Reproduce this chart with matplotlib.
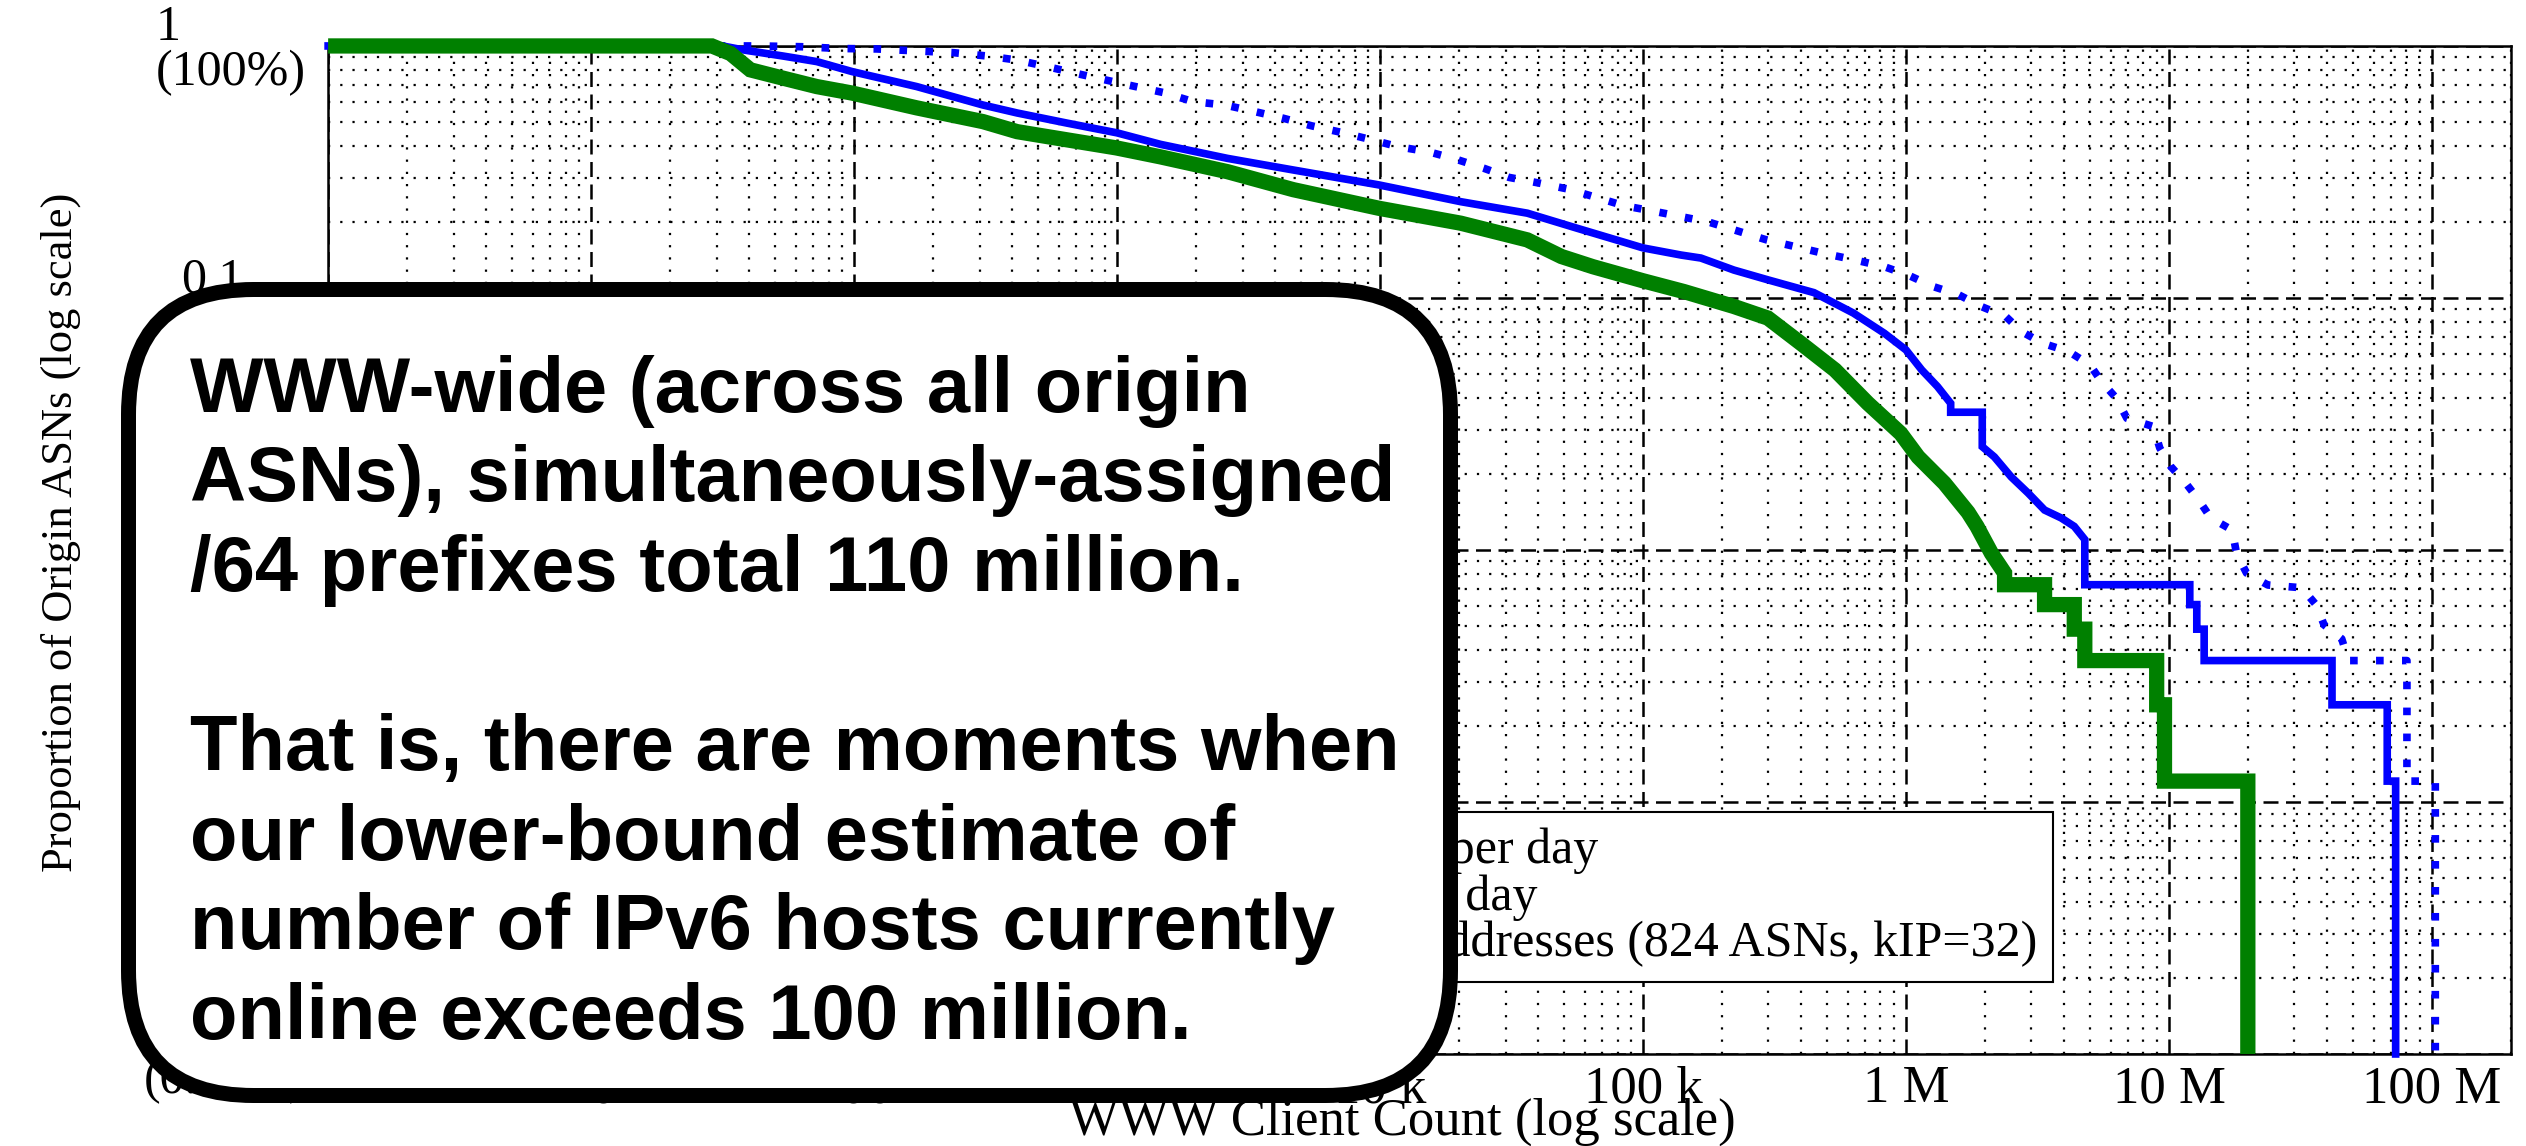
import numpy as np
import matplotlib
matplotlib.use("Agg")
import matplotlib.pyplot as plt
from matplotlib.patches import FancyBboxPatch
from matplotlib.transforms import IdentityTransform
from matplotlib.ticker import FixedLocator, LogLocator, NullFormatter

# CCDF curves (x = WWW client count, y = proportion of ASNs)
# blue dotted
addr_x = [1, 43.6, 63.1, 88.5, 122, 168, 240, 321, 417, 542,
          692, 904, 1175, 1503, 1950, 2570, 3365, 4305, 5495, 7194,
          9057, 11750, 15350, 19500, 24830, 30900, 40740, 52240, 66070, 85110,
          109600, 177800, 295100, 489800, 631000, 827900, 1.023e6, 1.268e6, 1.585e6, 1.932e6,
          2.399e6, 2.754e6, 3.311e6, 4.169e6, 5.012e6, 5.534e6, 6.31e6, 6.918e6, 8.71e6, 9.226e6,
          1.014e7, 1.159e7, 1.297e7, 1.442e7, 1.738e7, 1.807e7, 1.972e7, 2.377e7, 3.199e7, 3.631e7,
          3.89e7, 4.539e7, 4.819e7, 8.035e7, 8.035e7, 1.03e8, 1.03e8]
addr_y = [1, 1, .993, .977, .973, .957, .94, .912, .879, .828,
          .78, .733, .69, .653, .601, .583, .548, .516, .482, .453,
          .427, .398, .38, .355, .327, .301, .285, .27, .251, .232,
          .221, .20, .17, .150, .142, .133, .123, .111, .103, .0925,
          .0843, .0735, .0661, .0612, .0542, .0466, .04, .0333, .0309, .0254,
          .0215, .0184, .0158, .0134, .012, .0097, .0081, .00726, .00708, .00605,
          .00504, .00444, .00364, .00364, .00121, .00121, 1e-4]

# blue solid
pfx_x = [1, 31.6, 38, 53.7, 72.1, 98.4, 173, 309, 417, 646,
         1000, 1462, 2630, 4677, 9886, 20280, 36310, 56230, 100000, 139600,
         166000, 221800, 298500, 446700, 631000, 827900, 1e6, 1.148e6, 1.318e6, 1.479e6,
         1.479e6, 1.95e6, 1.95e6, 2.168e6, 2.512e6, 2.917e6, 3.365e6, 3.89e6, 4.365e6, 4.786e6,
         4.786e6, 1.2e7, 1.2e7, 1.276e7, 1.276e7, 1.361e7, 1.361e7, 4.169e7, 4.169e7, 6.761e7,
         6.761e7, 7.278e7, 7.278e7]
pfx_y = [1, 1, .964, .912, .867, .791, .69, .583, .542, .494,
         .452, .407, .358, .322, .281, .241, .217, .189, .158, .148,
         .144, .129, .118, .105, .0871, .0724, .0622, .0518, .0445, .0382,
         .0352, .0352, .0257, .0234, .0195, .0168, .0144, .0134, .0124, .011,
         .00728, .00728, .00607, .00607, .00485, .00485, .00364, .00364, .00243, .00243,
         .00121, .00121, 1e-4]

# green thick
sim_x = [1, 28.8, 33.9, 40.3, 53.7, 72.1, 98.4, 173, 309, 417,
         646, 993, 1462, 2630, 4677, 9886, 20280, 36310, 48980, 64570,
         100000, 143200, 221800, 298500, 398100, 537000, 716100, 955000, 1.112e6, 1.4e6,
         1.722e6, 1.862e6, 2.113e6, 2.371e6, 2.371e6, 3.365e6, 3.365e6, 4.365e6, 4.365e6, 4.786e6,
         4.786e6, 8.98e6, 8.98e6, 9.616e6, 9.616e6, 1.995e7, 1.995e7]
sim_y = [1, 1, .933, .804, .745, .69, .65, .568, .501, .457,
         .424, .394, .363, .317, .269, .227, .198, .17, .146, .133,
         .117, .106, .0925, .0832, .0661, .0518, .0382, .029, .0234, .0184,
         .0141, .0124, .0097, .0081, .00728, .00728, .00607, .00607, .00485, .00485,
         .00364, .00364, .00243, .00243, .00121, .00121, 1e-4]

legend_labels = ["IPv6 addresses per day",
                 "/64 prefixes per day",
                 "Simultaneous addresses (824 ASNs, kIP=32)"]

x_ticks = [1, 10, 100, 1e3, 1e4, 1e5, 1e6, 1e7, 1e8]
x_tick_labels = ["1", "10", "100", "1 k", "10 k", "100 k", "1 M", "10 M", "100 M"]
y_ticks = [1e-4, 1e-3, 1e-2, 1e-1, 1]
y_tick_labels = ["0.0001\n(0.01%)", "0.001\n(0.1%)", "0.01\n(1%)", "0.1\n(10%)", "1\n(100%)"]

callout_lines = ["WWW-wide (across all origin",
                 "ASNs), simultaneously-assigned",
                 "/64 prefixes total 110 million.",
                 "",
                 "That is, there are moments when",
                 "our lower-bound estimate of",
                 "number of IPv6 hosts currently",
                 "online exceeds 100 million."]

plt.rcParams['font.family'] = ['Liberation Serif', 'DejaVu Serif']

fig = plt.figure(figsize=(25.26, 11.46), dpi=100)
ax = fig.add_axes([0.1299, 0.0803, 0.8642, 0.8796])
ax.set_xscale('log')
ax.set_yscale('log')

blue = '#0000ff'
green = '#008000'
l1, = ax.plot(addr_x, addr_y, color=blue, lw=5.5, linestyle=(0, (1, 2.4)),
              dash_capstyle='butt', clip_on=False, zorder=3)
l2, = ax.plot(pfx_x, pfx_y, color=blue, lw=5.5, solid_joinstyle='miter',
              clip_on=False, zorder=3)
l3, = ax.plot(sim_x, sim_y, color=green, lw=11, solid_joinstyle='miter',
              solid_capstyle='butt', clip_on=False, zorder=4)

ax.set_xlim(1, 2e8)
ax.set_ylim(1e-4, 1)

# ticks and grid
ax.xaxis.set_major_locator(FixedLocator(x_ticks))
ax.yaxis.set_major_locator(FixedLocator(y_ticks))
ax.set_xticklabels(x_tick_labels)
ax.set_yticklabels(y_tick_labels)
for axis in (ax.xaxis, ax.yaxis):
    axis.set_minor_locator(LogLocator(base=10, subs=np.arange(2, 10), numticks=100))
    axis.set_minor_formatter(NullFormatter())
ax.tick_params(which='both', length=0)
ax.tick_params(axis='x', pad=8, labelsize=38)
ax.tick_params(axis='y', pad=16, labelsize=36)
for t in ax.get_yticklabels():
    t.set_multialignment('left')
    t.set_linespacing(0.95)

ax.grid(True, which='major', color='black', linestyle=(0, (6, 3)), lw=1.8)
ax.grid(True, which='minor', color='black', linestyle=(0, (1, 4.5)), lw=1.6)
for s in ax.spines.values():
    s.set_linewidth(1.8)

ax.set_xlabel("WWW Client Count (log scale)", fontsize=38)
ax.xaxis.label.set_va('baseline')
ax.xaxis.set_label_coords(0.492, -0.080)
ax.set_ylabel("Proportion of Origin ASNs (log scale)", fontsize=32)
ax.yaxis.set_label_coords(-0.113, 0.518)

leg = ax.legend([l1, l2, l3], legend_labels, loc='upper right',
                bbox_to_anchor=(0.790, 0.240), borderaxespad=0, fontsize=36,
                fancybox=False, edgecolor='black', framealpha=1,
                labelspacing=0.0, borderpad=0.3)
leg.get_frame().set_linewidth(1.5)

# callout box drawn over the left part of the chart (pixel coordinates)
box = FancyBboxPatch((128.5, 50.5), 1322, 806,
                     boxstyle='round,pad=0,rounding_size=125',
                     transform=IdentityTransform(), facecolor='white',
                     edgecolor='black', linewidth=10.8, zorder=5)
fig.add_artist(box)
fig.text(190 / 2526, 0.385, "\n".join(callout_lines), ha='left', va='center',
         fontsize=56, fontweight='bold', family=['Liberation Sans', 'DejaVu Sans'],
         linespacing=1.29, zorder=6)

fig.savefig('out.png', dpi=100)
